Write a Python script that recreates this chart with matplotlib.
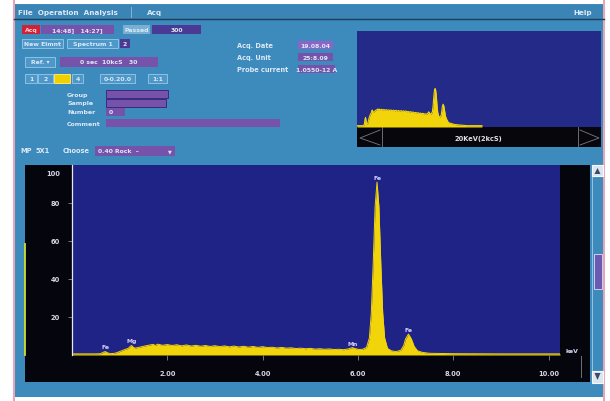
import matplotlib
matplotlib.use('Agg')
import matplotlib.pyplot as plt
from matplotlib.patches import Rectangle, Polygon

W, H = 610, 402

# EDS spectrum: energy (keV) and counts (%)
energy_kev = [0.00, 0.50, 0.60, 0.66, 0.70, 0.74, 0.80, 0.90, 1.00, 1.10,
              1.18, 1.22, 1.25, 1.28, 1.32, 1.40, 1.50, 1.60, 1.70, 1.75,
              1.80, 1.90, 2.00, 2.10, 2.20, 2.30, 2.40, 2.50, 2.60, 2.70,
              2.80, 2.90, 3.00, 3.10, 3.20, 3.30, 3.40, 3.50, 3.60, 3.70,
              3.80, 3.90, 4.00, 4.10, 4.20, 4.30, 4.40, 4.50, 4.60, 4.70,
              4.80, 4.90, 5.00, 5.10, 5.20, 5.30, 5.40, 5.50, 5.60, 5.70,
              5.80, 5.88, 5.95, 6.02, 6.10, 6.18, 6.24, 6.28, 6.32, 6.36,
              6.40, 6.44, 6.48, 6.52, 6.56, 6.62, 6.70, 6.80, 6.90, 6.96,
              7.00, 7.06, 7.12, 7.18, 7.25, 7.35, 7.50, 8.00, 9.00, 10.24]
counts = [0.6, 0.6, 0.7, 1.5, 1.8, 1.2, 0.7, 0.9, 1.8, 2.8,
          3.5, 4.5, 5.0, 4.2, 3.6, 4.0, 4.6, 5.1, 5.6, 5.0,
          5.7, 5.1, 5.5, 5.0, 5.4, 4.8, 5.3, 4.7, 5.1, 4.6,
          5.0, 4.5, 4.9, 4.4, 4.8, 4.3, 4.7, 4.2, 4.6, 4.1,
          4.5, 4.0, 4.4, 3.9, 4.1, 3.7, 4.0, 3.6, 3.8, 3.4,
          3.6, 3.3, 3.5, 3.1, 3.3, 3.0, 3.2, 2.9, 3.0, 2.8,
          3.2, 3.9, 3.3, 2.9, 3.0, 4.0, 9.0, 22.0, 48.0, 78.0,
          91.0, 78.0, 48.0, 22.0, 9.0, 3.5, 2.2, 1.8, 2.5, 5.0,
          8.5, 11.0, 8.5, 4.5, 2.2, 1.4, 0.9, 0.7, 0.6, 0.6]

peak_names = ['Fe', 'Mg', 'Mn', 'Fe', 'Fe']
peak_kev = [0.70, 1.25, 5.88, 6.40, 7.06]

x_ticks = [2, 4, 6, 8, 10]
x_tick_labels = ['2.00', '4.00', '6.00', '8.00', '10.00']
y_ticks = [20, 40, 60, 80]
y_tick_labels = ['20', '40', '60', '80']
y_top_label = '100'

BG = '#3d8abd'
PLOT_BLUE = '#1f2386'
YELLOW = '#f2d40a'
PURPLE = '#7752ab'
DARK_PURPLE = '#4b3996'
BTN = '#4d97c9'
BTN_EDGE = '#8cc2e2'
TXT = '#dde9f5'
FONT = 'DejaVu Sans'

fig = plt.figure(figsize=(W / 100, H / 100), dpi=100, facecolor='white')
ui = fig.add_axes([0, 0, 1, 1])
ui.set_xlim(0, W)
ui.set_ylim(H, 0)
ui.axis('off')


def rect(x0, y0, x1, y1, fc, ec='none', lw=0.8, z=1):
    ui.add_patch(Rectangle((x0, y0), x1 - x0, y1 - y0, facecolor=fc,
                           edgecolor=ec, linewidth=lw, zorder=z))


def label(x, y, s, color=TXT, size=4.5, ha='left'):
    ui.text(x, y, s, color=color, fontsize=size, ha=ha, va='center',
            family=FONT, fontweight='bold', zorder=5)


def box(x0, y0, x1, y1, fc, s='', color=TXT, ec='none', ha='center', size=4.4):
    rect(x0, y0, x1, y1, fc, ec=ec, lw=0.7, z=2)
    if s:
        tx = (x0 + x1) / 2 if ha == 'center' else x0 + 3
        label(tx, (y0 + y1) / 2, s, color=color, ha=ha, size=size)


# window frame
rect(14, 5, 604, 398, BG)
ui.plot([14, 14], [0, 402], color='#e7a6b8', lw=1.5, zorder=3)
ui.plot([604, 604], [0, 402], color='#e7a6b8', lw=1.5, zorder=3)

# menu bar
rect(14, 6, 604, 19.5, '#3a84b6')
ui.plot([14, 604], [20, 20], color='#1e3d5a', lw=1.0, zorder=3)
label(18, 13, 'File  Operation  Analysis', size=5.2)
ui.plot([131, 131], [8, 18], color='#8fbcd8', lw=0.6, zorder=3)
label(147, 13, 'Acq', size=5.2)
label(573, 13, 'Help', size=5.2)

# acquisition row
box(22, 26, 40, 35, '#d02236', 'Acq', color='#ffd0d8')
box(41, 26, 114, 35, PURPLE, '14:48]   14:27]')
box(123, 26, 150, 35, '#78afd3', 'Passed', color='#d8ecf8')
box(152, 26, 201, 35, DARK_PURPLE, '300')

box(22, 40, 63, 49, BTN, 'New Elmnt', ec=BTN_EDGE)
box(67, 40, 118, 49, BTN, 'Spectrum 1', ec=BTN_EDGE)
box(120, 40, 130, 49, DARK_PURPLE, '2')

box(25, 58, 55, 68, BTN, 'Ref. \u25be', ec=BTN_EDGE)
box(60, 58, 158, 68, PURPLE, '0 sec  10kcS   30')

box(25, 75, 37, 84, BTN, '1', ec=BTN_EDGE)
box(38, 75, 53, 84, BTN, '2', ec=BTN_EDGE)
box(54, 75, 70, 84, '#f2d000', ec='#f8e870')
box(72, 75, 83, 84, BTN, '4', ec=BTN_EDGE)
box(100, 75, 135, 84, BTN, '0-0.20.0', ec=BTN_EDGE)
box(148, 75, 167, 84, BTN, '1:1', ec=BTN_EDGE)

# sample info fields
for txt, yy in [('Group', 95), ('Sample', 104), ('Number', 113), ('Comment', 124)]:
    label(67, yy, txt)
box(106, 91, 168, 99, PURPLE, ec='#3a2a80')
box(106, 100, 166, 108, PURPLE, ec='#3a2a80')
box(106, 109, 125, 117, PURPLE, '0', ha='left')
box(106, 120, 280, 128, PURPLE)

# acquisition info
label(237, 46, 'Acq. Date', size=4.8)
label(237, 58, 'Acq. Unit', size=4.8)
label(237, 70, 'Probe current', size=4.8)
box(298, 42, 333, 50, '#8a64c6', '19.08.04')
box(298, 54, 333, 62, PURPLE, '25:8.09')
box(298, 66, 335, 74, PURPLE, '1.0550-12 A')

# detector row
label(20, 151, 'MP', size=4.8)
label(36, 151, '5X1', size=4.8)
label(63, 151, 'Choose', size=4.8)
box(95, 147, 175, 157, PURPLE, '0.40 Rock  \u2013', ha='left')
label(170, 152, '\u25bc', size=3.5, ha='center')

# overview spectrum
rect(357, 128, 601, 148, '#06060c')
for xs, ys in [([382, 382], [128, 148]), ([578, 578], [128, 148]),
               ([380, 360, 380], [131, 139, 146]), ([580, 599, 580], [131, 139, 146])]:
    ui.plot(xs, ys, color='#7a7a84', lw=0.6, zorder=3)
label(478, 139, '20KeV(2kcS)', color='#e0e0e8', ha='center', size=4.8)

ov = fig.add_axes([357 / W, 1 - 128 / H, (601 - 357) / W, (128 - 32) / H])
ov.set_facecolor('#242a88')
ov.set_yscale('log')
ov.fill_between(energy_kev, counts, 0.5, color=YELLOW, lw=0)
ov.plot(energy_kev, counts, color=YELLOW, lw=0.8)
ov.set_xlim(0, 20)
ov.set_ylim(0.5, 2.2e5)
ov.set_xticks([])
ov.set_yticks([])
ov.minorticks_off()
for sp in ov.spines.values():
    sp.set_visible(False)

# main spectrum frame
rect(25, 166, 590, 383, '#05050d')
ui.plot([25, 25], [245, 356], color='#d4dc28', lw=1.3, zorder=3)
ui.plot([581, 581], [357, 378], color='#707078', lw=0.7, zorder=3)
ui.text(572, 352, 'keV', color='#d8d4f4', fontsize=4.4, ha='center', va='center',
        family=FONT, fontweight='bold', zorder=5)
ui.text(60, 174, y_top_label, color='#d8d8e4', fontsize=4.8, ha='right', va='center',
        family=FONT, fontweight='bold', zorder=5)

# scroll bar
rect(592, 166, 603, 384, BG, ec='#a8cde6', lw=0.6, z=2)
rect(592, 166, 603, 177, '#dbe6ef', ec='#f4f8fb', z=3)
rect(592, 372, 603, 384, '#dbe6ef', ec='#f4f8fb', z=3)
ui.add_patch(Polygon([[594.5, 175], [600.5, 175], [597.5, 169]], closed=True,
                     facecolor='#3a4a6a', zorder=4))
ui.add_patch(Polygon([[594.5, 374], [600.5, 374], [597.5, 381]], closed=True,
                     facecolor='#3a4a6a', zorder=4))
rect(593.5, 255, 601.5, 290, '#6a5ab4', ec='#e0e0f8', lw=0.6, z=3)

ax = fig.add_axes([72 / W, 1 - 356 / H, (560 - 72) / W, (356 - 166) / H])
ax.set_facecolor(PLOT_BLUE)
ax.fill_between(energy_kev, counts, 0, color=YELLOW, lw=0)
ax.plot(energy_kev, counts, color=YELLOW, lw=0.7)
ax.set_xlim(0, 10.24)
ax.set_ylim(0, 100)
ax.set_xticks(x_ticks, x_tick_labels)
ax.set_yticks(y_ticks, y_tick_labels)
ax.tick_params(axis='x', direction='out', length=3.6, width=0.6, color='#8a8a96',
               labelcolor='#d8d8e4', labelsize=4.8, pad=7)
ax.tick_params(axis='y', direction='out', length=3.0, width=0.6, color='#8a8a96',
               labelcolor='#d8d8e4', labelsize=4.8, pad=5.5)
for t in ax.get_xticklabels() + ax.get_yticklabels():
    t.set_fontweight('bold')
    t.set_family(FONT)
for name, sp in ax.spines.items():
    sp.set_visible(name == 'left')
ax.spines['left'].set_color('#e8e8f0')
ax.spines['left'].set_linewidth(0.9)

for name, kev in zip(peak_names, peak_kev):
    c = counts[energy_kev.index(kev)]
    ax.annotate(name, (kev, c), xytext=(0, 1.5), textcoords='offset points',
                ha='center', va='bottom', color='#d4d0ff', fontsize=4.4,
                fontweight='bold', family=FONT)

fig.savefig('out.png', dpi=100, facecolor='white')
